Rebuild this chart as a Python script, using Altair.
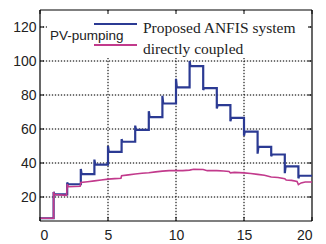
import altair as alt
import pandas as pd

# ---- data ----
hours = list(range(20))
blue_levels = [7.5, 21.5, 27.5, 33.5, 39, 46.5, 52.5, 59.5, 67, 75,
               84.5, 97, 84, 74, 66.5, 58.5, 49.5, 45, 38, 32.5]
# value at the switching instant of each hour (h = 1..19)
blue_spikes = [None, 23, 28.5, 36.5, 42, 50, 54, 62, 70.5, 79.5,
               89.5, 100, 83, 72, 64.5, 56, 45.5, 44, 34, 31]

purple_t = [0, 1, 1, 1.05, 1.95, 2, 2, 2.1, 2.95, 3, 3.5, 4, 4.5, 5, 5.5, 5.95,
            6, 6.5, 7, 7.5, 8, 8.5, 9, 9.5, 10, 10.5, 11, 11.3, 12, 12.3, 13,
            13.5, 13.9, 14, 14.3, 15, 15.5, 16, 16.5, 17, 17.5, 18, 18.1, 18.5,
            18.9, 19, 19.2, 19.5, 20]
purple_v = [7.5, 7.5, 23, 21.5, 21, 26, 27.5, 26, 26.3, 28.5, 29, 29.5, 30, 30.5,
            30.8, 31, 32.5, 33, 33.5, 34, 34.3, 34.8, 35.2, 35.5, 35.5, 35.5, 35.8,
            36.3, 36.2, 35.5, 35.5, 35.3, 35, 34.2, 34.5, 34.2, 33.8, 33.3, 32.8,
            31.8, 31.5, 30.8, 30, 29.8, 29.2, 27.3, 28.3, 28.8, 28.8]

x_ticks = [0, 5, 10, 15, 20]
y_ticks = [20, 40, 60, 80, 100, 120]
grid_x_vals = [5, 10, 15]

series_names = ["Proposed ANFIS system", "directly coupled"]
series_colors = ["#2B3A93", "#C23A8C"]

# ---- build tables ----
bt, bv = [], []
for h, lvl, sp in zip(hours, blue_levels, blue_spikes):
    if sp is None:
        bt += [h]
        bv += [lvl]
    else:
        bt += [h, h + 0.06]
        bv += [sp, lvl]
    bt.append(h + 1)
    bv.append(lvl)

blue_df = pd.DataFrame({"t": bt, "v": bv, "s": series_names[0], "o": range(len(bt))})
purple_df = pd.DataFrame({"t": purple_t, "v": purple_v, "s": series_names[1],
                          "o": range(len(purple_t))})

W, H = 272, 211
PX = 1.7  # pixels per y unit
xs = alt.Scale(domain=[0, 20], nice=False, zero=False)
ys = alt.Scale(domain=[130 - H / PX, 130], nice=False, zero=False)
col = alt.Scale(domain=series_names, range=series_colors)

axis_x = alt.Axis(values=x_ticks, grid=False, ticks=False, domain=False,
                  labelFont="Liberation Sans", labelFontSize=14,
                  labelColor="#222", labelPadding=7, title=None)
axis_y = alt.Axis(values=y_ticks, grid=False, ticks=False, domain=False,
                  labelFont="Liberation Sans", labelFontSize=14,
                  labelColor="#222", labelPadding=4, title=None)

xt = pd.DataFrame({"gt": x_ticks})
xg = pd.DataFrame({"gx": grid_x_vals})
yt = pd.DataFrame({"gy": y_ticks})
one = pd.DataFrame({"a": [0]})

# plot frame (first layers)
frame_top = alt.Chart(one).mark_rule(color="#000", strokeWidth=1.2).encode(
    x=alt.value(0), x2=alt.value(W), y=alt.value(0))
frame_bot = alt.Chart(one).mark_rule(color="#000", strokeWidth=1.2).encode(
    x=alt.value(0), x2=alt.value(W), y=alt.value(H))
frame_l = alt.Chart(one).mark_rule(color="#000", strokeWidth=1.2).encode(
    x=alt.value(0), y=alt.value(0), y2=alt.value(H))
frame_r = alt.Chart(one).mark_rule(color="#000", strokeWidth=1.2).encode(
    x=alt.value(W), y=alt.value(0), y2=alt.value(H))

# grid: light base line + black dots
grid_x_base = alt.Chart(xg).mark_rule(color="#d2d2d2", strokeWidth=1).encode(
    x=alt.X("gx:Q", scale=xs, axis=axis_x), y=alt.value(0), y2=alt.value(H))
grid_y_base = alt.Chart(yt).mark_rule(color="#d2d2d2", strokeWidth=1).encode(
    y=alt.Y("gy:Q", scale=ys, axis=axis_y), x=alt.value(0), x2=alt.value(W))
grid_x = alt.Chart(xg).mark_rule(color="#000", strokeDash=[1, 2], strokeWidth=1).encode(
    x=alt.X("gx:Q", scale=xs, axis=axis_x), y=alt.value(0), y2=alt.value(H))
grid_y = alt.Chart(yt).mark_rule(color="#000", strokeDash=[1, 2], strokeWidth=1).encode(
    y=alt.Y("gy:Q", scale=ys, axis=axis_y), x=alt.value(0), x2=alt.value(W))

blue = alt.Chart(blue_df).mark_line(strokeWidth=2.2).encode(
    x=alt.X("t:Q", scale=xs, axis=axis_x),
    y=alt.Y("v:Q", scale=ys, axis=axis_y),
    color=alt.Color("s:N", scale=col, legend=None),
    order="o:Q",
)
purple = alt.Chart(purple_df).mark_line(strokeWidth=1.6).encode(
    x=alt.X("t:Q", scale=xs, axis=axis_x),
    y=alt.Y("v:Q", scale=ys, axis=axis_y),
    color=alt.Color("s:N", scale=col, legend=None),
    order="o:Q",
)

legend_box = alt.Chart(one).mark_rect(color="white").encode(
    x=alt.value(7), x2=alt.value(268), y=alt.value(2), y2=alt.value(48))
leg_blue = alt.Chart(one).mark_rule(color=series_colors[0], strokeWidth=2).encode(
    x=alt.value(54), x2=alt.value(97), y=alt.value(14))
leg_purple = alt.Chart(one).mark_rule(color=series_colors[1], strokeWidth=2).encode(
    x=alt.value(54), x2=alt.value(97), y=alt.value(35))
leg_title = alt.Chart(one).mark_text(text="PV-pumping", font="Liberation Sans",
                                     fontSize=13.5, align="left", baseline="alphabetic",
                                     color="#222").encode(x=alt.value(10), y=alt.value(29.5))
leg_t1 = alt.Chart(one).mark_text(text=series_names[0], font="Liberation Serif",
                                  fontSize=15.5, align="left", baseline="alphabetic",
                                  color="#222").encode(x=alt.value(103), y=alt.value(22.5))
leg_t2 = alt.Chart(one).mark_text(text=series_names[1], font="Liberation Serif",
                                  fontSize=15.5, align="left", baseline="alphabetic",
                                  color="#222").encode(x=alt.value(103), y=alt.value(44))

tick_b = alt.Chart(xt).mark_rule(color="#000").encode(
    x=alt.X("gt:Q", scale=xs, axis=axis_x), y=alt.value(H), y2=alt.value(H - 4))
tick_t = alt.Chart(xt).mark_rule(color="#000").encode(
    x=alt.X("gt:Q", scale=xs, axis=axis_x), y=alt.value(0), y2=alt.value(4))
tick_l = alt.Chart(yt).mark_rule(color="#000").encode(
    y=alt.Y("gy:Q", scale=ys, axis=axis_y), x=alt.value(0), x2=alt.value(4))
tick_r = alt.Chart(yt).mark_rule(color="#000").encode(
    y=alt.Y("gy:Q", scale=ys, axis=axis_y), x=alt.value(W - 4), x2=alt.value(W))

chart = alt.layer(
    frame_top, frame_bot, frame_l, frame_r,
    grid_x_base, grid_y_base, grid_x, grid_y,
    blue, purple, legend_box, leg_blue, leg_purple, leg_title, leg_t1, leg_t2,
    tick_b, tick_t, tick_l, tick_r,
).properties(
    width=W, height=H,
    padding={"left": 40, "top": 10, "right": 14, "bottom": 23},
    autosize=alt.AutoSizeParams(type="none"),
).configure_view(strokeWidth=0)

chart.save("out.html", embed_options={"renderer": "svg", "actions": False})
